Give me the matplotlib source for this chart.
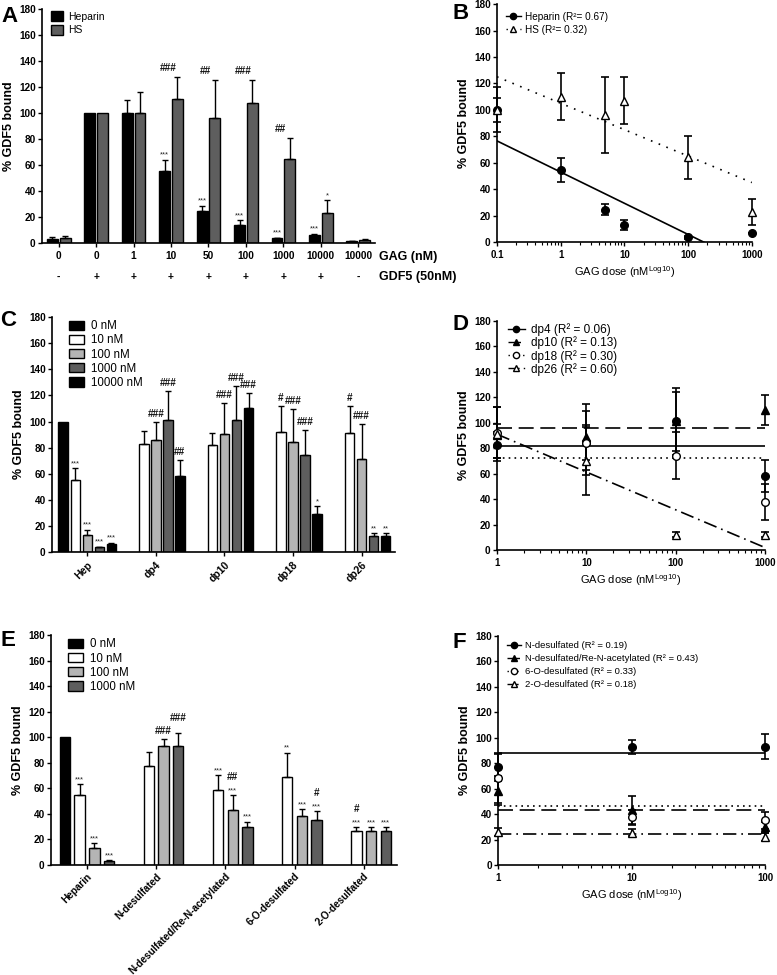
import numpy as np
import matplotlib
matplotlib.use("Agg")
import matplotlib.pyplot as plt
from matplotlib.patches import Patch
from matplotlib.lines import Line2D

plt.rcParams['font.family'] = ['Liberation Sans', 'DejaVu Sans']
plt.rcParams['axes.linewidth'] = 1.2
plt.rcParams['xtick.major.width'] = 1.0
plt.rcParams['ytick.major.width'] = 1.0
plt.rcParams['xtick.major.size'] = 3
plt.rcParams['ytick.major.size'] = 3
plt.rcParams['xtick.minor.size'] = 2
plt.rcParams['xtick.minor.width'] = 0.8
plt.rcParams['xtick.major.pad'] = 2.5
plt.rcParams['ytick.major.pad'] = 1.5

# ---------------- data ----------------
# A: heparin vs HS binding
a_dose = ['0', '0', '1', '10', '50', '100', '1000', '10000', '10000']
a_gdf5 = ['-', '+', '+', '+', '+', '+', '+', '+', '-']
a_hep = [3, 100, 100, 55, 24.5, 13.5, 3.5, 6.5, 1.5]
a_hep_err = [1.5, 0, 10, 9, 4, 4, 0.5, 0.5, 0.3]
a_hs = [4, 100, 100, 110.5, 96.5, 107.5, 64.5, 23, 2.5]
a_hs_err = [1.5, 0, 16.5, 17, 29, 18, 16, 10, 0.5]
a_hep_sig = ['', '', '', '***', '***', '***', '***', '***', '']
a_hs_sig = ['', '', '', '###', '##', '###', '##', '*', '']

# B: dose response
b_dose = [0.1, 1, 5, 10, 100, 1000]
b_hep = [100, 54.5, 24.5, 13, 3.5, 6.5]
b_hep_err = [9, 9.3, 4, 4, 1, 0]
b_hs = [100, 110, 96, 107, 64, 22.5]
b_hs_err = [17, 17.5, 29, 18, 16, 10]
b_hep_fit = (52.9, -23.6)   # intercept, slope vs log10(dose)
b_hs_fit = (105.0, -20.0)

# C: size-defined oligosaccharides
c_groups = ['Hep', 'dp4', 'dp10', 'dp18', 'dp26']
c_series = ['0 nM', '10 nM', '100 nM', '1000 nM', '10000 nM']
c_0 = [100, np.nan, np.nan, np.nan, np.nan]
c_10 = [55, 83, 82, 92, 91]
c_100 = [13, 85.5, 90.5, 84, 71]
c_1000 = [3.5, 101, 101, 74.5, 12.5]
c_10000 = [6.5, 58, 110.5, 29, 12]
c_0_err = [0, 0, 0, 0, 0]
c_10_err = [9, 10, 9, 20, 21]
c_100_err = [4, 14, 24, 25.5, 27]
c_1000_err = [0.5, 22.5, 26, 19, 2]
c_10000_err = [0.5, 12.5, 11.5, 6, 2.3]
c_0_sig = ['', '', '', '', '']
c_10_sig = ['***', '', '', '#', '#']
c_100_sig = ['***', '###', '###', '###', '###']
c_1000_sig = ['***', '###', '###', '###', '**']
c_10000_sig = ['***', '##', '###', '*', '**']

# D: oligosaccharide dose response
d_dose = [1, 10, 100, 1000]
d_dp4 = [82.5, 84.5, 101, 58]
d_dp4_err = [10, 14, 23.5, 12.5]
d_dp10 = [90, 88.5, 101, 110]
d_dp10_err = [9, 26, 26, 12]
d_dp18 = [92, 84, 74, 37.5]
d_dp18_err = [20, 25, 18.5, 14]
d_dp26 = [91, 70, 12, 12]
d_dp26_err = [21, 27, 2, 2]
d_fit_dp4 = (82, 0)
d_fit_dp10 = (96, 0)
d_fit_dp18 = (72, 0)
d_fit_dp26 = (91, -29.7)

# E: selectively desulfated heparins
e_groups = ['Heparin', 'N-desulfated', 'N-desulfated/Re-N-acetylated',
            '6-O-desulfated', '2-O-desulfated']
e_series = ['0 nM', '10 nM', '100 nM', '1000 nM']
e_0 = [100, np.nan, np.nan, np.nan, np.nan]
e_10 = [54.5, 77.5, 59, 68.5, 26.5]
e_100 = [13, 93, 43, 38, 26.5]
e_1000 = [3.5, 93, 29.5, 35, 26.5]
e_0_err = [0, 0, 0, 0, 0]
e_10_err = [9, 11, 11.5, 19.5, 3]
e_100_err = [4, 6, 11.5, 5.5, 3]
e_1000_err = [0.5, 10, 4.5, 7, 3]
e_0_star = ['', '', '', '', '']
e_10_star = ['***', '', '***', '**', '***']
e_100_star = ['***', '', '***', '***', '***']
e_1000_star = ['***', '', '***', '***', '***']
e_0_hash = ['', '', '', '', '']
e_10_hash = ['', '', '', '', '#']
e_100_hash = ['', '###', '##', '', '']
e_1000_hash = ['', '###', '', '#', '']

# F: desulfated dose response
f_dose = [1, 10, 100]
f_nd = [77, 93, 93]
f_nd_err = [11, 5.5, 10]
f_nre = [58.5, 43, 29.5]
f_nre_err = [11.5, 11.5, 4.5]
f_6o = [68, 37.5, 35]
f_6o_err = [19.5, 5.5, 7]
f_2o = [26, 25.5, 22]
f_2o_err = [3, 3, 3]
f_fit_nd = 88
f_fit_nre = 43.5
f_fit_6o = 46.5
f_fit_2o = 24.5

BLACK = '#000000'
DARK = '#5e5e5e'
LIGHT = '#b4b4b4'
WHITE = '#ffffff'


def style_axes(ax, tick_fs=7.2):
    ax.spines['top'].set_visible(False)
    ax.spines['right'].set_visible(False)
    ax.set_ylim(0, 180)
    ax.set_yticks(np.arange(0, 181, 20))
    for lab in ax.get_yticklabels():
        lab.set_fontweight('bold')
        lab.set_fontsize(tick_fs)
    ax.set_ylabel('% GDF5 bound', fontsize=9, fontweight='bold', labelpad=3)


def sig_text(ax, x, top, text, extra=0):
    if not text:
        return
    if '#' in text:
        ax.text(x, top + 6 + extra, text, ha='center', va='center',
                fontsize=7.2, fontweight='bold', color='#111111')
    else:
        ax.text(x, top + 3.5 + extra, text, ha='center', va='center',
                fontsize=5.5, color='#222222')


def up_err(ax, x, y, err):
    x = np.asarray(x, float)
    y = np.asarray(y, float)
    err = np.asarray(err, float)
    m = (err > 0) & ~np.isnan(y)
    ax.errorbar(x[m], y[m], yerr=[np.zeros(m.sum()), err[m]], fmt='none',
                ecolor='black', elinewidth=1.0, capsize=2.5, capthick=1.0)


fig = plt.figure(figsize=(7.77, 9.75), dpi=100)

# ---------------- Panel A ----------------
axA = fig.add_axes([0.054, 0.7508, 0.4286, 0.24])
xa = np.arange(len(a_dose))
bw = 0.29
axA.bar(xa - 0.17, a_hep, bw, color=BLACK, edgecolor='black', lw=1.0)
axA.bar(xa + 0.17, a_hs, bw, color=DARK, edgecolor='black', lw=1.0)
up_err(axA, xa - 0.17, a_hep, a_hep_err)
up_err(axA, xa + 0.17, a_hs, a_hs_err)
for i in range(len(xa)):
    sig_text(axA, xa[i] - 0.17, a_hep[i] + a_hep_err[i], a_hep_sig[i])
    if '#' in a_hs_sig[i]:
        sig_text(axA, xa[i] - 0.08, a_hs[i] + a_hs_err[i], a_hs_sig[i], extra=1)
    else:
        sig_text(axA, xa[i] + 0.17, a_hs[i] + a_hs_err[i], a_hs_sig[i])
axA.set_xlim(-0.45, len(xa) - 0.55)
style_axes(axA)
axA.set_xticks(xa)
axA.set_xticklabels(a_dose, fontsize=7.3, fontweight='bold')
tr = axA.get_xaxis_transform()
for i, s in enumerate(a_gdf5):
    axA.text(xa[i], -0.145, s, transform=tr, ha='center', va='center',
             fontsize=7.3, fontweight='bold')
axA.text(1.012, -0.06, 'GAG (nM)', transform=axA.transAxes, ha='left',
         va='center', fontsize=9, fontweight='bold')
axA.text(1.012, -0.145, 'GDF5 (50nM)', transform=axA.transAxes, ha='left',
         va='center', fontsize=9, fontweight='bold')
axA.legend(handles=[Patch(facecolor=BLACK, edgecolor='black', label='Heparin'),
                    Patch(facecolor=DARK, edgecolor='black', label='HS')],
           loc='upper left', bbox_to_anchor=(0.0, 1.03), frameon=False,
           fontsize=7.5, handlelength=1.1, handleheight=1.0, labelspacing=0.35,
           handletextpad=0.5)


def dose_axes(ax, xmin, xmax, ticks, labels):
    ax.set_xscale('log')
    ax.set_xlim(xmin, xmax)
    style_axes(ax)
    ax.set_xticks(ticks)
    ax.set_xticklabels(labels, fontsize=7, fontweight='bold')
    ax.set_xlabel('GAG dose (nM$^{\\mathregular{Log10}}$)', fontsize=8, labelpad=3)


def scatter_series(ax, x, y, err, marker, mfc, ls, fit, label, xr):
    ax.errorbar(x, y, yerr=err, fmt='none', ecolor='black', elinewidth=1.2,
                capsize=3, capthick=1.2, clip_on=False, zorder=3)
    ax.plot(x, y, linestyle='none', marker=marker, mfc=mfc, mec='black',
            mew=1.0, ms=5.5, clip_on=False, zorder=4)
    xx = np.logspace(np.log10(xr[0]), np.log10(xr[1]), 200)
    yy = fit[0] + fit[1] * np.log10(xx)
    ax.plot(xx, yy, color='black', linestyle=ls, lw=1.2, zorder=2)
    return Line2D([], [], color='black', linestyle=ls, lw=1.0, marker=marker,
                  mfc=mfc, mec='black', ms=4.5, label=label)


LEG_FONT = ['Liberation Sans Narrow', 'Liberation Sans', 'DejaVu Sans']

# ---------------- Panel B ----------------
axB = fig.add_axes([0.6396, 0.7518, 0.328, 0.244])
h1 = scatter_series(axB, b_dose, b_hep, b_hep_err, 'o', 'black', '-', b_hep_fit,
                    'Heparin (R²= 0.67)', (0.1, 1000))
h2 = scatter_series(axB, b_dose, b_hs, b_hs_err, '^', 'white', (0, (1, 4)), b_hs_fit,
                    'HS (R²= 0.32)', (0.1, 1000))
dose_axes(axB, 0.1, 1000, [0.1, 1, 10, 100, 1000], ['0.1', '1', '10', '100', '1000'])
axB.legend(handles=[h1, h2], loc='upper left', bbox_to_anchor=(0.0, 1.005),
           frameon=False, prop={'family': LEG_FONT, 'size': 7.2},
           handlelength=1.5, labelspacing=0.3, handletextpad=0.4)

# ---------------- Panel C ----------------
axC = fig.add_axes([0.0669, 0.4338, 0.4414, 0.241])
xc = np.arange(len(c_groups))
c_vals = [c_0, c_10, c_100, c_1000, c_10000]
c_errs = [c_0_err, c_10_err, c_100_err, c_1000_err, c_10000_err]
c_sigs = [c_0_sig, c_10_sig, c_100_sig, c_1000_sig, c_10000_sig]
c_cols = [BLACK, WHITE, LIGHT, DARK, BLACK]
step = 0.175
for k in range(5):
    xk = xc + (k - 2) * step
    axC.bar(xk, c_vals[k], 0.14, color=c_cols[k], edgecolor='black', lw=1.0,
            label=c_series[k])
    up_err(axC, xk, c_vals[k], c_errs[k])
    for i in range(len(xc)):
        if not np.isnan(c_vals[k][i]):
            sig_text(axC, xk[i], c_vals[k][i] + c_errs[k][i], c_sigs[k][i])
axC.set_xlim(-0.515, len(xc) - 0.515)
style_axes(axC)
axC.set_xticks(xc)
axC.set_xticklabels(c_groups, rotation=45, ha='right', rotation_mode='anchor',
                    fontsize=7.5, fontweight='bold')
axC.legend(loc='upper left', bbox_to_anchor=(0.02, 1.03), frameon=False,
           fontsize=8.3, handlelength=1.3, handleheight=0.9, labelspacing=0.18,
           handletextpad=0.6)

# ---------------- Panel D ----------------
axD = fig.add_axes([0.6396, 0.4359, 0.345, 0.2349])
hd = [scatter_series(axD, d_dose, d_dp4, d_dp4_err, 'o', 'black', '-', d_fit_dp4,
                     'dp4 (R² = 0.06)', (1, 1000)),
      scatter_series(axD, d_dose, d_dp10, d_dp10_err, '^', 'black', (0, (9, 4)), d_fit_dp10,
                     'dp10 (R² = 0.13)', (1, 1000)),
      scatter_series(axD, d_dose, d_dp18, d_dp18_err, 'o', 'white', (0, (1, 2.5)), d_fit_dp18,
                     'dp18 (R² = 0.30)', (1, 1000)),
      scatter_series(axD, d_dose, d_dp26, d_dp26_err, '^', 'white', (0, (8, 3, 1, 3)), d_fit_dp26,
                     'dp26 (R² = 0.60)', (1, 1000))]
dose_axes(axD, 1, 1000, [1, 10, 100, 1000], ['1', '10', '100', '1000'])
axD.legend(handles=hd, loc='upper left', bbox_to_anchor=(0.0, 1.035),
           frameon=False, prop={'family': LEG_FONT, 'size': 8.5},
           handlelength=1.5, labelspacing=0.02, handletextpad=0.5)

# ---------------- Panel E ----------------
axE = fig.add_axes([0.0656, 0.1128, 0.4453, 0.2359])
xe = np.arange(len(e_groups))
e_vals = [e_0, e_10, e_100, e_1000]
e_errs = [e_0_err, e_10_err, e_100_err, e_1000_err]
e_stars = [e_0_star, e_10_star, e_100_star, e_1000_star]
e_hashes = [e_0_hash, e_10_hash, e_100_hash, e_1000_hash]
e_cols = [BLACK, WHITE, LIGHT, DARK]
step = 0.213
for k in range(4):
    xk = xe + (k - 1.5) * step
    axE.bar(xk, e_vals[k], 0.15, color=e_cols[k], edgecolor='black', lw=1.0,
            label=e_series[k])
    up_err(axE, xk, e_vals[k], e_errs[k])
    for i in range(len(xe)):
        if np.isnan(e_vals[k][i]):
            continue
        top = e_vals[k][i] + e_errs[k][i]
        sig_text(axE, xk[i], top, e_stars[k][i])
        lift = 8 if e_stars[k][i] else (6 if k == 3 else 0)
        sig_text(axE, xk[i], top, e_hashes[k][i], extra=lift)
axE.set_xlim(-0.52, len(xe) - 0.52)
style_axes(axE)
axE.set_xticks(xe)
axE.set_xticklabels(e_groups, rotation=45, ha='right', rotation_mode='anchor',
                    fontsize=7.2, fontweight='bold')
axE.tick_params(axis='x', pad=1.5)
axE.legend(loc='upper left', bbox_to_anchor=(0.02, 1.03), frameon=False,
           fontsize=8.3, handlelength=1.3, handleheight=0.9, labelspacing=0.18,
           handletextpad=0.6)

# ---------------- Panel F ----------------
axF = fig.add_axes([0.641, 0.1128, 0.3436, 0.2349])
hf = [scatter_series(axF, f_dose, f_nd, f_nd_err, 'o', 'black', '-', (f_fit_nd, 0),
                     'N-desulfated (R² = 0.19)', (1, 100)),
      scatter_series(axF, f_dose, f_nre, f_nre_err, '^', 'black', (0, (9, 4)), (f_fit_nre, 0),
                     'N-desulfated/Re-N-acetylated (R² = 0.43)', (1, 100)),
      scatter_series(axF, f_dose, f_6o, f_6o_err, 'o', 'white', (0, (1, 2.5)), (f_fit_6o, 0),
                     '6-O-desulfated (R² = 0.33)', (1, 100)),
      scatter_series(axF, f_dose, f_2o, f_2o_err, '^', 'white', (0, (8, 3, 1, 3)), (f_fit_2o, 0),
                     '2-O-desulfated (R² = 0.18)', (1, 100))]
dose_axes(axF, 1, 100, [1, 10, 100], ['1', '10', '100'])
axF.legend(handles=hf, loc='upper left', bbox_to_anchor=(0.0, 1.015),
           frameon=False, prop={'family': LEG_FONT, 'size': 6.8},
           handlelength=1.5, labelspacing=0.42, handletextpad=0.5)

# panel letters
for lab, (x, y) in {'A': (0.002, 0.994), 'B': (0.582, 0.997), 'C': (0.0, 0.682),
                    'D': (0.582, 0.678), 'E': (0.0, 0.354), 'F': (0.582, 0.352)}.items():
    fig.text(x, y, lab, fontsize=16, fontweight='bold', va='top', ha='left')

fig.savefig('out.png', dpi=100)
